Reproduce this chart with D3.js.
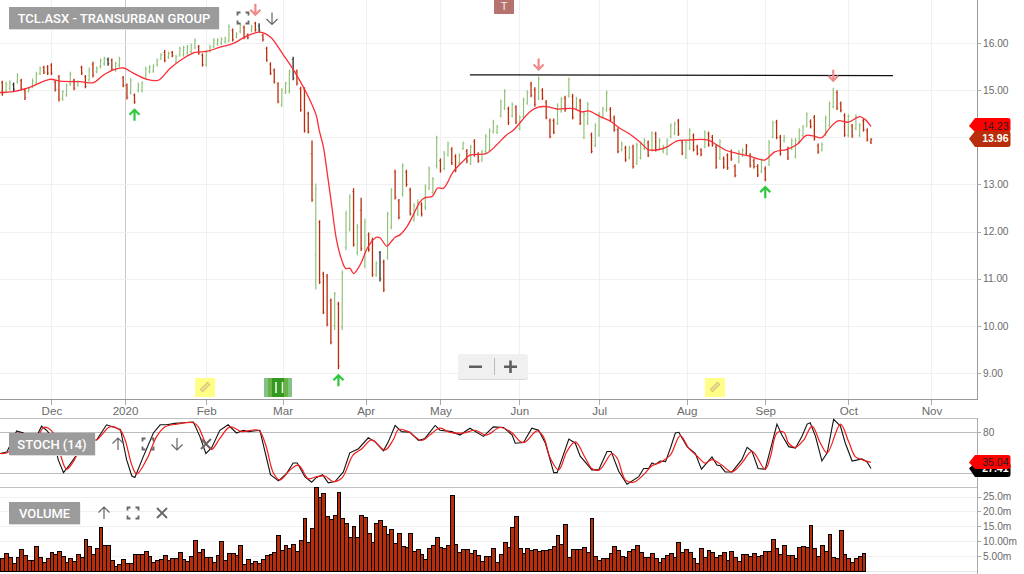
<!DOCTYPE html>
<html><head><meta charset="utf-8">
<style>html,body{margin:0;padding:0;background:#fff;overflow:hidden}svg{display:block}text{font-family:"Liberation Sans",Arial,sans-serif}</style>
<script src="https://cdnjs.cloudflare.com/ajax/libs/d3/7.8.5/d3.min.js"></script>
</head><body><svg id="c" width="1024" height="574"></svg>
<script>
const barKinds = ("rggdgrrggg"+"grrrrrgggr"+"grrgrgggdr"+"ggrrgrgggg"+"gggrgrgggg"+"ggrrgggggg"+"grggrrgrdr"+"rrrrgggdrr"+"rrrgrrrrgr"+"gggrgrgrrg"+"drggrrgrrg"+"grggggrggr"+"rggrgrrggg"+"ggggrgrggg"+"rrgrrrrggr"+"grgrggrggg"+"grrrgrgrgg"+"grgrgggggr"+"rggrrrgrrr"+"grrrrggrrr"+"rgrggrrgrg"+"ggggrrrggg"+"grrrgrggrrr").split("");
const highs = [15.20,15.18,15.21,15.16,15.36,15.24,15.04,15.07,15.25,15.39,
15.50,15.52,15.53,15.57,15.21,15.32,15.00,15.14,15.39,15.24,
15.21,15.52,15.32,15.48,15.60,15.50,15.67,15.71,15.69,15.67,
15.60,15.71,15.30,15.14,15.26,14.93,15.16,15.19,15.50,15.53,
15.55,15.67,15.78,15.85,15.82,15.83,15.75,15.92,15.94,15.96,
15.99,16.10,15.96,15.78,15.85,15.96,16.10,16.10,16.12,16.13,
16.40,16.31,16.23,16.42,16.37,16.20,16.38,16.45,16.42,16.20,
15.92,15.59,15.46,15.17,15.04,15.18,15.43,15.71,15.44,15.07,
15.06,14.54,13.93,13.02,12.24,11.15,11.10,10.58,10.72,10.51,
11.18,12.44,12.79,12.92,12.16,12.72,12.27,11.98,11.87,11.37,
11.59,11.40,12.42,12.92,13.31,12.69,13.45,13.31,12.93,12.60,
12.68,12.62,13.00,13.38,13.16,14.03,13.55,13.71,13.91,13.79,
13.64,13.66,13.91,13.75,13.84,13.96,13.68,13.73,14.07,14.19,
14.37,14.26,14.80,15.02,14.65,14.74,14.68,14.47,14.84,15.00,
15.18,15.06,15.29,15.04,14.79,14.40,14.40,14.72,14.85,14.88,
15.27,14.92,14.86,14.82,14.54,14.75,14.10,14.30,14.54,14.65,
14.99,14.64,14.46,14.21,13.91,13.82,13.82,13.84,13.89,13.91,
13.98,13.93,14.13,14.12,13.98,13.84,13.98,14.30,14.33,14.39,
13.94,13.94,14.19,14.08,13.84,13.77,14.15,14.12,14.05,13.84,
13.96,13.59,13.66,13.74,13.43,13.73,13.77,13.86,13.66,13.55,
13.43,13.55,13.38,13.94,14.35,14.37,14.05,14.05,13.80,13.98,
13.98,14.19,14.26,14.53,14.38,14.47,13.87,13.89,14.46,14.76,
15.05,15.00,14.76,14.51,14.49,14.28,14.49,14.30,14.40,14.19,13.98];
const lows = [14.88,14.93,15.00,14.97,15.14,15.00,14.79,14.95,15.04,15.11,
15.32,15.34,15.32,15.32,14.97,14.76,14.77,14.86,15.09,15.00,
15.07,15.32,15.04,15.18,15.27,15.36,15.46,15.52,15.52,15.41,
15.39,15.48,15.06,14.80,14.90,14.71,14.95,14.95,15.23,15.36,
15.37,15.50,15.64,15.59,15.66,15.70,15.57,15.71,15.71,15.75,
15.78,15.87,15.75,15.50,15.50,15.80,15.89,15.94,15.96,15.99,
16.01,16.03,16.10,16.20,16.08,16.08,16.23,16.24,16.23,16.03,
15.60,15.32,15.14,14.72,14.64,14.92,14.93,15.21,15.10,14.54,
14.10,14.08,12.63,10.77,10.89,10.25,9.99,9.61,9.91,9.08,
9.91,11.61,12.00,11.68,11.50,11.59,11.22,11.57,11.04,11.04,
10.94,10.72,11.40,12.05,12.68,12.26,12.74,12.95,12.34,12.21,
12.33,12.32,12.46,12.88,12.78,13.34,13.25,13.30,13.59,13.41,
13.26,13.41,13.73,13.45,13.41,13.59,13.46,13.48,13.66,13.69,
14.08,14.07,14.42,14.58,14.26,14.42,14.28,14.15,14.40,14.69,
14.85,14.65,14.79,14.79,14.38,13.98,14.07,14.26,14.52,14.54,
14.84,14.38,14.58,14.26,13.96,14.26,13.66,13.79,14.01,14.40,
14.54,14.33,14.12,13.66,13.70,13.48,13.53,13.34,13.41,13.53,
13.73,13.58,13.70,13.70,13.73,13.66,13.62,13.98,14.05,14.03,
13.62,13.54,13.73,13.70,13.62,13.60,13.77,13.80,13.80,13.33,
13.52,13.33,13.31,13.50,13.15,13.45,13.58,13.62,13.36,13.34,
13.16,13.24,13.07,13.39,13.98,13.96,13.61,13.89,13.52,13.73,
13.55,13.87,14.00,14.21,14.19,13.93,13.65,13.70,14.03,14.21,
14.61,14.58,14.53,14.01,14.00,13.99,14.15,14.00,14.12,13.91,13.86];
const opens = [15.16,14.97,15.04,15.12,15.18,15.20,15.00,14.98,15.08,15.15,
15.35,15.48,15.49,15.53,15.17,15.28,14.82,14.90,15.14,15.20,
15.11,15.48,15.28,15.22,15.55,15.39,15.50,15.56,15.65,15.63,
15.43,15.53,15.26,15.10,14.95,14.89,14.99,15.00,15.27,15.40,
15.41,15.54,15.67,15.80,15.70,15.80,15.61,15.75,15.75,15.79,
15.82,15.90,15.92,15.74,15.55,15.83,15.93,15.98,16.00,16.03,
16.05,16.27,16.13,16.24,16.33,16.17,16.27,16.41,16.36,16.16,
15.88,15.55,15.42,15.13,14.70,14.96,14.98,15.65,15.40,15.03,
15.02,14.50,13.65,11.50,12.20,11.10,11.05,10.53,10.00,10.46,
9.97,11.66,12.05,12.85,11.56,12.45,11.28,11.93,11.82,11.08,
11.55,11.35,11.45,12.10,13.26,12.65,12.80,13.26,12.88,12.25,
12.38,12.57,12.52,12.92,12.83,13.40,13.50,13.34,13.63,13.74,
13.59,13.45,13.77,13.70,13.45,13.91,13.63,13.52,13.70,13.73,
14.12,14.11,14.46,14.62,14.60,14.46,14.63,14.19,14.44,14.73,
15.13,15.01,14.83,15.00,14.74,14.35,14.35,14.30,14.56,14.83,
14.88,14.87,14.62,14.77,14.00,14.30,14.05,13.83,14.05,14.44,
14.58,14.59,14.41,14.16,13.74,13.77,13.57,13.79,13.45,13.57,
13.77,13.88,13.74,14.07,13.77,13.70,13.66,14.02,14.09,14.34,
13.90,13.58,13.77,14.03,13.79,13.73,13.81,14.07,14.00,13.79,
13.56,13.54,13.61,13.69,13.38,13.49,13.62,13.66,13.61,13.50,
13.38,13.28,13.33,13.43,14.02,14.32,14.00,13.93,13.75,13.77,
13.59,13.91,14.04,14.25,14.33,14.42,13.82,13.74,14.07,14.25,
14.65,14.95,14.71,14.46,14.04,14.24,14.19,14.04,14.35,14.14,13.90];
const closes = [14.93,15.12,15.17,15.02,15.31,15.04,14.84,15.03,15.20,15.33,
15.46,15.38,15.36,15.36,15.01,14.81,14.97,15.09,15.34,15.04,
15.18,15.36,15.08,15.43,15.32,15.46,15.63,15.67,15.56,15.45,
15.56,15.66,15.10,14.85,15.20,14.75,15.11,15.15,15.45,15.49,
15.50,15.63,15.75,15.63,15.78,15.73,15.71,15.88,15.90,15.92,
15.95,16.05,15.79,15.54,15.80,15.92,16.06,16.06,16.08,16.09,
16.35,16.07,16.19,16.38,16.12,16.11,16.34,16.28,16.27,16.07,
15.64,15.36,15.18,14.76,15.00,15.14,15.39,15.25,15.14,14.58,
14.14,14.12,12.67,12.90,10.93,10.29,10.03,9.65,10.68,9.15,
11.12,12.38,12.72,11.73,12.10,11.64,12.20,11.62,11.09,11.33,
11.00,10.77,12.37,12.88,12.73,12.30,13.40,13.00,12.38,12.55,
12.63,12.37,12.95,13.33,13.11,13.98,13.30,13.66,13.86,13.46,
13.30,13.61,13.87,13.50,13.79,13.64,13.50,13.69,14.02,14.14,
14.32,14.22,14.75,14.97,14.31,14.69,14.33,14.42,14.79,14.95,
14.89,14.70,15.24,14.83,14.42,14.02,14.11,14.67,14.81,14.58,
15.22,14.42,14.81,14.30,14.49,14.70,13.70,14.25,14.49,14.60,
14.94,14.37,14.16,13.70,13.86,13.52,13.77,13.38,13.84,13.86,
13.93,13.62,14.08,13.74,13.93,13.79,13.93,14.25,14.28,14.07,
13.66,13.89,14.14,13.74,13.66,13.64,14.10,13.84,13.84,13.37,
13.91,13.37,13.35,13.54,13.19,13.68,13.72,13.81,13.40,13.38,
13.20,13.50,13.11,13.89,14.30,14.00,13.65,14.00,13.56,13.93,
13.93,14.14,14.22,14.48,14.23,13.97,13.69,13.85,14.41,14.71,
15.00,14.62,14.57,14.05,14.44,14.03,14.44,14.25,14.16,13.95,13.96];
// moving average: [bar, price] vertices
const maLine = [[-0.6,14.95],[2.9,14.97],[7.3,15.06],[12.6,15.23],[15.3,15.19],[20.6,15.18],[24.1,15.16],[26.8,15.32],[29.4,15.43],[32.1,15.47],[34.7,15.36],[38.2,15.23],[41.3,15.21],[44.4,15.46],[47.9,15.67],[51,15.80],[54.1,15.82],[57.6,15.91],[61.2,15.99],[64.3,16.13],[68.2,16.23],[70.9,16.13],[74.4,15.75],[77.1,15.43],[80.6,14.93],[83.1,14.47],[83.9,14.15],[85,13.80],[86.05,13.23],[87.2,12.56],[88.5,11.82],[89.85,11.40],[90.9,11.22],[92.05,11.22],[93,11.11],[94.7,11.29],[96.6,11.64],[97.8,11.79],[99.1,11.88],[100,11.87],[101.8,11.69],[103.1,11.80],[104,11.88],[105.3,11.93],[107.1,12.10],[108.8,12.35],[110.6,12.63],[111.9,12.72],[113.9,12.75],[115.2,12.92],[116.8,12.92],[119.4,13.27],[122.1,13.50],[123.8,13.62],[128.2,13.66],[130.9,13.84],[133.5,14.05],[135.3,14.15],[139.7,14.54],[141.9,14.64],[144.1,14.65],[146.8,14.60],[151.2,14.61],[153.4,14.54],[155.2,14.56],[158.3,14.44],[160.8,14.35],[163.5,14.19],[166.1,14.07],[168.8,13.90],[171,13.74],[173.2,13.73],[175.9,13.79],[178.5,13.92],[181.1,13.94],[186.9,13.94],[189.1,13.84],[191.7,13.72],[194.4,13.66],[197.9,13.60],[200.1,13.54],[202,13.52],[204.5,13.69],[207.6,13.74],[210.3,13.84],[212.9,14.04],[214.7,14.03],[216.9,13.99],[219.1,14.20],[221.3,14.35],[224,14.32],[227,14.44],[228.4,14.38],[230,14.23]];
const trendLine = [[123.8,15.325],[235.8,15.31]];
const stochK = [[-0.6,49],[1.2,51],[3.8,82],[5.6,79],[8.2,64],[10.4,89],[11.7,83],[13.5,71],[14.8,40],[16.2,21],[17.5,30],[19.7,47],[21.5,64],[25,69],[27.6,91],[29.8,87],[31.3,84],[32.9,40],[34.3,16],[35.1,14],[37.3,44],[40,79],[41.8,91],[43.5,91],[45.7,93],[48,94],[50.6,95],[52.3,74],[53.9,49],[55.4,57],[57.6,83],[59.8,91],[62,79],[63.8,83],[65.1,81],[68.2,83],[71,18],[73.1,9],[75.3,20],[77,35],[78.1,35],[80.1,15],[81.9,7],[83.2,14],[84.8,18],[86.3,6],[88.1,8],[90.3,22],[92,50],[94.3,56],[96.9,72],[98.7,66],[100.9,53],[102.2,66],[104,90],[105.7,81],[107.9,80],[110.2,68],[111.9,71],[114.6,90],[115.9,83],[119,81],[121.2,76],[123.8,86],[127.4,74],[130,88],[132.7,87],[135,76],[135.8,64],[138,65],[140.2,86],[142,83],[143.8,64],[146,21],[146.9,21],[150,70],[151.7,64],[153,45],[156.1,25],[157.9,25],[160.1,52],[161.2,52],[163.2,23],[165.4,4],[168.5,15],[169.8,27],[171.1,27],[172,35],[172.9,33],[174.2,38],[175.6,37],[176.9,57],[178.2,79],[179.1,80],[181.3,59],[183.5,49],[185.1,26],[187.9,44],[189.2,32],[190.1,31],[191.4,22],[193.2,22],[195.8,40],[197.2,58],[198.5,52],[200.1,27],[202,26],[203.8,64],[205.1,92],[206.4,76],[208.2,59],[210,57],[211.7,74],[213.1,92],[213.9,94],[215.3,74],[217,38],[218.4,50],[220.1,99],[221.9,89],[223.2,64],[225,38],[227.6,41],[228.9,37],[230,27]];
const stochD = [[-0.6,49],[1.6,51],[4.2,79],[8.2,64],[10.9,87],[12.2,86],[13.5,79],[15.3,49],[17,26],[18.8,37],[21.5,64],[25,69],[28.5,88],[31.2,83],[32.5,69],[34.3,32],[35.6,19],[38.2,40],[40.9,74],[43.1,88],[46.2,92],[50.6,94],[51.9,88],[53.7,66],[55.4,55],[57.6,71],[60.3,88],[63.4,81],[67.8,83],[69.6,64],[71.8,20],[73.5,10],[76.2,25],[78.4,32],[81,12],[83.2,15],[85.4,16],[87.6,8],[89.9,13],[92.9,47],[95.2,56],[97.8,69],[101.3,54],[103.5,69],[104.9,84],[107.5,81],[111,68],[113.2,76],[115.9,86],[118.5,80],[122.1,79],[125.2,83],[128.2,76],[131.8,87],[135,79],[137.2,66],[138.5,66],[141.6,82],[143.3,73],[145.1,42],[147.3,25],[149.5,52],[151.7,66],[154.4,42],[156.1,27],[158.1,25],[161.4,49],[162.8,42],[165,10],[167.2,7],[169.8,18],[172,31],[174.2,36],[176.9,47],[179.5,75],[181.7,57],[184,45],[186.1,35],[187.9,40],[190.5,32],[193.2,22],[195.8,35],[198.5,52],[202,26],[203.4,45],[205.1,79],[206.9,80],[208.2,64],[210,58],[212.2,69],[214.4,89],[216.6,64],[218.4,50],[221.9,92],[224.1,66],[225.9,44],[227.6,40],[230,36]];
const volumes = [4.3,5.9,4.6,2.6,4.8,7.3,5.4,3.6,3.6,8.3,
4.6,2.9,4.3,6.3,5.6,6.6,4.9,2.9,4.3,3.2,
5.6,4.6,10.6,8.3,5.6,7.6,14.7,8.6,8.6,3.6,
1.6,2.2,3.9,2.6,2.6,5.6,5.6,5.6,6.6,4.9,
2.9,3.6,3.9,5.3,3.6,4.3,4.3,6.3,3.9,3.2,
4.9,10.3,6.3,7.3,4.6,4.6,2.9,5.3,10.0,3.6,
5.9,5.9,5.3,8.6,2.2,3.9,2.6,3.2,2.6,3.9,
5.3,5.6,6.3,12.0,6.9,8.6,7.6,8.9,6.6,10.3,
17.7,9.6,14.3,28.1,24.7,26.1,18.3,17.3,18.7,26.4,
17.7,16.0,11.3,15.0,11.3,18.7,18.0,12.6,9.6,16.0,
17.0,15.0,12.3,14.0,9.3,12.6,8.3,7.9,12.6,6.6,
7.3,5.6,3.9,7.6,8.6,11.3,7.9,7.6,8.6,25.4,
8.9,6.3,7.3,7.3,5.9,6.9,5.3,3.2,4.9,4.9,
7.6,2.9,5.6,9.6,7.9,14.7,18.3,7.6,5.9,7.6,
6.9,7.3,6.6,6.9,6.9,7.3,8.3,12.0,8.9,15.7,
4.6,7.3,7.3,7.3,7.9,6.3,17.7,4.9,3.6,4.3,
4.3,5.9,8.3,6.9,4.9,4.6,6.6,7.3,8.6,6.3,
4.6,4.6,5.9,4.3,2.9,4.3,5.3,5.9,4.6,9.6,
6.3,7.3,6.3,4.3,2.6,7.6,4.6,6.9,6.3,4.6,
5.3,6.3,3.6,6.6,4.6,3.2,5.6,5.6,4.9,5.9,
4.9,5.3,6.6,6.6,10.6,7.6,5.6,8.6,5.3,5.3,
4.3,7.9,8.3,7.9,15.3,7.6,4.9,8.6,6.6,12.3,
4.6,4.3,13.6,5.6,4.3,2.9,4.3,4.9,5.9,0.1];
const priceTicks = [9,10,11,12,13,14,15,16];
const monthBars = [13,32.5,54,74.2,96.2,116,136.9,158,181.2,202,224,246];
const monthLabels = ["Dec","2020","Feb","Mar","Apr","May","Jun","Jul","Aug","Sep","Oct","Nov"];
const stochTicks = [20,80];
const volTicks = [5,10,15,20,25];
const volTickLabels = ["5.00m","10.00m","15.0m","20.0m","25.0m"];
const upSignals = [35,89,202];
const downSignals = [67,142,220];
const noteBars = [53.7,188.7];
const lastMA = 14.23, lastClose = 13.96, lastD = 35.04, lastK = 27.41;

const svg = d3.select("#c");
const W = 977, step = 3.777;
const x = d3.scaleLinear().domain([0,230]).range([2.3,2.3+230*step]);
const y = d3.scaleLinear().domain([9,16]).range([373,43]);
const yS = d3.scaleLinear().domain([20,80]).range([473.3,432.3]);
const yV = d3.scaleLinear().domain([0,25]).range([571,496.5]);
const GRID="#f0f0f0", AX="#aaa", TXT="#6a6a6a", AXIS_Y=399.5;
const bars = d3.range(highs.length);

// grids
const grid = svg.append("g").attr("shape-rendering","crispEdges");
grid.selectAll(".v").data(monthBars).join("line").attr("x1",d=>Math.round(x(d))+.5).attr("x2",d=>Math.round(x(d))+.5).attr("y1",0).attr("y2",AXIS_Y)
 .attr("stroke",(d,i)=>monthLabels[i]==="2020"?"#c8c8c8":GRID);
grid.selectAll(".h").data(priceTicks).join("line").attr("x1",0).attr("x2",W).attr("y1",d=>Math.round(y(d))+.5).attr("y2",d=>Math.round(y(d))+.5).attr("stroke",GRID);
grid.selectAll(".vh").data(volTicks).join("line").attr("x1",0).attr("x2",W).attr("y1",d=>Math.round(yV(d))+.5).attr("y2",d=>Math.round(yV(d))+.5).attr("stroke",GRID);
grid.selectAll(".sh").data(stochTicks).join("line").attr("x1",0).attr("x2",W).attr("y1",d=>Math.round(yS(d))+.5).attr("y2",d=>Math.round(yS(d))+.5).attr("stroke","#bbb");
[AXIS_Y,418.5,487.5].forEach(v=>grid.append("line").attr("x1",0).attr("x2",W).attr("y1",v).attr("y2",v).attr("stroke",v===AXIS_Y?"#999":"#c0c0c0"));
grid.append("line").attr("x1",0).attr("x2",W).attr("y1",571.5).attr("y2",571.5).attr("stroke","#e4e4e4");
grid.append("line").attr("x1",W+.5).attr("x2",W+.5).attr("y1",0).attr("y2",AXIS_Y).attr("stroke","#999");
grid.append("line").attr("x1",W+.5).attr("x2",W+.5).attr("y1",418).attr("y2",574).attr("stroke","#aaa");

// axes
function styleAxis(fs){return g=>{g.select(".domain").remove();g.selectAll("line").attr("stroke",AX).attr("shape-rendering","crispEdges");g.selectAll("text").attr("fill",TXT).style("font-size",fs+"px").style("font-family",'"Liberation Sans",Arial,sans-serif');};}
svg.append("g").attr("transform",`translate(0,${AXIS_Y})`).call(d3.axisBottom(x).tickValues(monthBars).tickFormat((d,i)=>monthLabels[i]).tickSize(5).tickPadding(2)).call(styleAxis(11.6));
const rAxis=s=>d3.axisRight(s).tickSize(4).tickPadding(2);
svg.append("g").attr("transform",`translate(${W},0)`).call(rAxis(y).tickValues(priceTicks).tickFormat(d3.format(".2f"))).call(styleAxis(10.2));
svg.append("g").attr("transform",`translate(${W},0)`).call(rAxis(yS).tickValues(stochTicks).tickFormat(d3.format("d"))).call(styleAxis(10.2));
svg.append("g").attr("transform",`translate(${W},0)`).call(rAxis(yV).tickValues(volTicks).tickFormat((d,i)=>volTickLabels[i])).call(styleAxis(10.2));

// OHLC bars
const barColor={g:"#8cc176",r:"#b92d0a",d:"#2b2b2b"};
const ohlc = svg.append("g");
ohlc.selectAll("path.s").data(bars).join("path").attr("class","s")
 .attr("d",i=>`M${x(i)},${y(highs[i])}V${y(lows[i])}`)
 .attr("fill","none").attr("stroke",i=>barColor[barKinds[i]]).attr("stroke-width",i=>barKinds[i]==="g"?1.15:1.3);
ohlc.selectAll("path.t").data(bars).join("path").attr("class","t")
 .attr("d",i=>`M${x(i)-1.4},${y(opens[i])}H${x(i)}M${x(i)},${y(closes[i])}H${x(i)+1.4}`)
 .attr("fill","none").attr("stroke",i=>barColor[barKinds[i]]).attr("stroke-width",.8).attr("opacity",.75);

// MA and trend line
const ln = d3.line().x(d=>x(d[0])).y(d=>y(d[1])).curve(d3.curveCatmullRom.alpha(.5));
svg.append("path").attr("d",ln(maLine)).attr("fill","none").attr("stroke","#fb2d37").attr("stroke-width",1.3);
svg.append("path").attr("d",d3.line().x(d=>x(d[0])).y(d=>y(d[1]))(trendLine)).attr("fill","none").attr("stroke","#111").attr("stroke-width",1.2);

// signals
function arrow(g,cx,cy,dir,col,w,h,sw){const s=dir;g.append("path").attr("d",`M${cx},${cy-s*h/2}V${cy+s*h/2}M${cx-w},${cy+s*(h/2-w)}L${cx},${cy+s*h/2}L${cx+w},${cy+s*(h/2-w)}`).attr("fill","none").attr("stroke",col).attr("stroke-width",sw);}
const sg=svg.append("g");
upSignals.forEach(i=>arrow(sg,x(i),y(lows[i])+11.5,-1,"#2dc83c",5,11,2.2));
downSignals.forEach(i=>arrow(sg,x(i),y(highs[i])-12.5,1,"#f08a8a",5,11,2.2));

// Stochastic
const lnK = d3.line().x(d=>x(d[0])).y(d=>yS(d[1]));
const lnD = d3.line().x(d=>x(d[0])).y(d=>yS(d[1])).curve(d3.curveCatmullRom.alpha(.5));
svg.append("path").attr("d",lnK(stochK)).attr("fill","none").attr("stroke","#111").attr("stroke-width",1.1);
svg.append("path").attr("d",lnD(stochD)).attr("fill","none").attr("stroke","#f41a1a").attr("stroke-width",1.2);

// Volume
const vl=i=>Math.round(x(i)-step/2)+.5, vr=i=>Math.round(x(i)+step/2)+.5;
svg.append("g").attr("shape-rendering","crispEdges").selectAll("rect").data(bars).join("rect")
 .attr("x",vl).attr("width",i=>vr(i)-vl(i)).attr("y",i=>Math.round(yV(volumes[i]))+.5).attr("height",i=>571.5-Math.round(yV(volumes[i]))-.5)
 .attr("fill","#b92d0a").attr("stroke","#000").attr("stroke-width",1);

// title pills
function pill(t,x0,y0,w,h){const g=svg.append("g");
 g.append("rect").attr("x",x0+.5).attr("y",y0+1).attr("width",w).attr("height",h).attr("fill","#ddd");
 g.append("rect").attr("x",x0).attr("y",y0).attr("width",w).attr("height",h).attr("fill","#9b9b9b");
 g.append("text").attr("x",x0+w/2).attr("y",y0+h/2+4.6).attr("text-anchor","middle").attr("fill","#fff").attr("font-weight",500).style("font-family","Roboto").style("font-size","13px").text(t);}
pill("TCL.ASX - TRANSURBAN GROUP",9,7,210,22);
pill("STOCH (14)",9,433,86,22);
pill("VOLUME",9,502,71,22);

// icons
const I="#666";
function frame(cx,cy){const r=5.5,l=3;svg.append("path").attr("d",`M${cx-r},${cy-r+l}V${cy-r}H${cx-r+l}M${cx+r-l},${cy-r}H${cx+r}V${cy-r+l}M${cx+r},${cy+r-l}V${cy+r}H${cx+r-l}M${cx-r+l},${cy+r}H${cx-r}V${cy+r-l}`).attr("fill","none").attr("stroke",I).attr("stroke-width",1.8);}
function cross(cx,cy){const r=5;svg.append("path").attr("d",`M${cx-r},${cy-r}L${cx+r},${cy+r}M${cx+r},${cy-r}L${cx-r},${cy+r}`).attr("fill","none").attr("stroke",I).attr("stroke-width",1.8);}
const ig=svg.append("g");
frame(243,18); arrow(ig,272,18.5,1,I,5.5,12,1.2);
arrow(ig,118,444,-1,I,5.5,12,1.2); frame(148,444); arrow(ig,177,444,1,I,5.5,12,1.2); cross(206,444);
arrow(ig,104,513,-1,I,5.5,12,1.2); frame(133,513); cross(162,513);

// top T marker
svg.append("rect").attr("x",494).attr("y",-2).attr("width",20).attr("height",16).attr("fill","#b5726f");
svg.append("text").attr("x",504).attr("y",10).attr("text-anchor","middle").attr("fill","#eee").style("font-size","11px").text("T");

// notes
noteBars.forEach(b=>{const cx=x(b);const g=svg.append("g");
 g.append("rect").attr("x",cx-10).attr("y",378).attr("width",20).attr("height",19).attr("fill","#ffff88");
 g.append("path").attr("d",`M${cx-4},${391}L${cx+4},${383}`).attr("stroke","#d9c56f").attr("stroke-width",4);
 g.append("path").attr("d",`M${cx-3.5},${390.5}L${cx+3.5},${383.5}`).attr("stroke","#f4e7a8").attr("stroke-width",1.3);});
const gb=svg.append("g");
gb.append("rect").attr("x",264).attr("y",378).attr("width",28).attr("height",19).attr("fill","#82c283");
gb.append("rect").attr("x",268).attr("y",378).attr("width",20).attr("height",19).attr("fill","#67b34a");
gb.append("rect").attr("x",272).attr("y",378).attr("width",12).attr("height",19).attr("fill","#33991f");
gb.append("path").attr("d","M276,382V393M282.5,382V393").attr("stroke","#eef5ea").attr("stroke-width",1.6);

// zoom control
const zc=svg.append("g");
zc.append("rect").attr("x",458).attr("y",355).attr("width",70).attr("height",25).attr("rx",3).attr("fill","#d8d8d8");
zc.append("rect").attr("x",458).attr("y",354).attr("width",70).attr("height",25).attr("rx",3).attr("fill","#f0f0f0");
zc.append("path").attr("d","M469,366.7H482M504,366.7H517M510.5,360.5V373").attr("stroke","#5f5f5f").attr("stroke-width",2.6);
zc.append("path").attr("d","M494.5,358V375").attr("stroke","#bbb").attr("stroke-width",1);

// last-value tags
function tag(yc,col,txt,tc,bold,top,bot){
 svg.append("path").attr("d",`M969,${yc}L975,${top}H1008Q1010.5,${top} 1010.5,${top+2}V${bot-2}Q1010.5,${bot} 1008,${bot}H975Z`).attr("fill",col);
 svg.append("text").attr("x",1008.5).attr("y",yc+3.7).attr("text-anchor","end").attr("fill",tc).attr("font-weight",bold?700:400).style("font-size","10.5px").text(txt);}
tag(yS(lastK),"#000",lastK.toFixed(2),"#fff",true,463,477);
tag(yS(lastD)-.5,"#ff0000",lastD.toFixed(2),"#222",false,455,469);
tag(y(lastMA)-.5,"#ff0000",lastMA.toFixed(2),"#222",false,118,132);
tag(y(lastClose)-.5,"#b82e0a",lastClose.toFixed(2),"#fff",true,131,147);
</script></body></html>
